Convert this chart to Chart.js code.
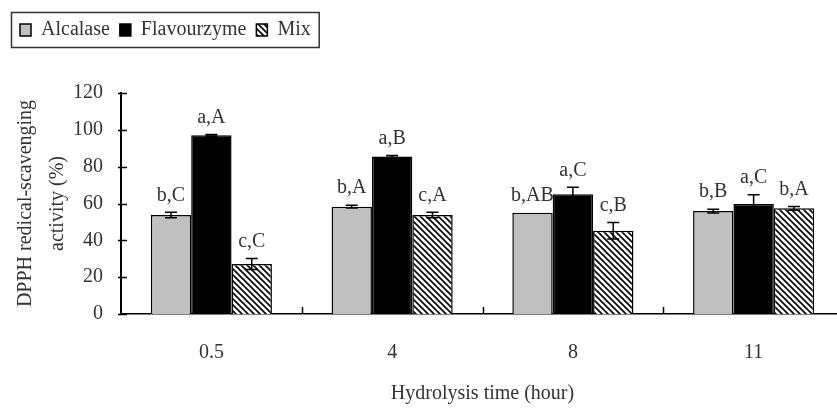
<!DOCTYPE html>
<html>
<head>
<meta charset="utf-8">
<script src="https://cdn.jsdelivr.net/npm/chart.js@4.4.1/dist/chart.umd.min.js"></script>
<style>
  html, body { margin: 0; padding: 0; background: #fff; overflow: hidden; }
  #wrap { width: 850px; height: 409px; }
</style>
</head>
<body>
<div id="wrap"><canvas id="chart"></canvas></div>
<script>
// values (means, SD, significance letters)
const hours = ['0.5', '4', '8', '11'];
const alcalase = [53.7, 58.3, 55.0, 55.9];
const flavourzyme = [97.0, 85.5, 65.0, 59.7];
const mix = [27.2, 53.7, 45.2, 57.4];
const alcalaseErr = [1.5, 0.8, 0, 1.0];
const flavourzymeErr = [0.5, 0.5, 3.8, 5.0];
const mixErr = [3.0, 1.5, 4.5, 1.0];
const alcalaseSig = ['b,C', 'b,A', 'b,AB', 'b,B'];
const flavourzymeSig = ['a,A', 'a,B', 'a,C', 'a,C'];
const mixSig = ['c,C', 'c,A', 'c,B', 'b,A'];
const yTicks = [0, 20, 40, 60, 80, 100, 120];

const errors = [alcalaseErr, flavourzymeErr, mixErr];
const sigs = [alcalaseSig, flavourzymeSig, mixSig];

const FONT = '"Liberation Serif", "Times New Roman", serif';
const TEXT = '#333';

function hatch() {
  const c = document.createElement('canvas');
  c.width = 6; c.height = 6;
  const g = c.getContext('2d');
  g.fillStyle = '#fff';
  g.fillRect(0, 0, 6, 6);
  g.strokeStyle = '#000';
  g.lineWidth = 1.6;
  g.beginPath();
  g.moveTo(-1, -1); g.lineTo(7, 7);
  g.moveTo(5, -1); g.lineTo(7, 1);
  g.moveTo(-1, 5); g.lineTo(1, 7);
  g.stroke();
  return g.createPattern(c, 'repeat');
}

const extras = {
  id: 'extras',
  beforeInit(chart) {
    const fit = chart.legend.fit;
    chart.legend.fit = function () { fit.call(this); this.height = 83; };
  },
  afterDatasetsDraw(chart) {
    const ctx = chart.ctx;
    const y = chart.scales.y;
    ctx.save();
    chart.data.datasets.forEach((ds, di) => {
      chart.getDatasetMeta(di).data.forEach((bar, i) => {
        const err = errors[di][i];
        const top = y.getPixelForValue(ds.data[i] + err);
        if (err > 0) {
          const bot = y.getPixelForValue(ds.data[i] - err);
          ctx.strokeStyle = '#000';
          ctx.lineWidth = 1.5;
          ctx.beginPath();
          ctx.moveTo(bar.x, top); ctx.lineTo(bar.x, bot);
          ctx.moveTo(bar.x - 6, top); ctx.lineTo(bar.x + 6, top);
          ctx.moveTo(bar.x - 6, bot); ctx.lineTo(bar.x + 6, bot);
          ctx.stroke();
        }
        ctx.fillStyle = TEXT;
        ctx.font = `20px ${FONT}`;
        ctx.textAlign = 'center';
        ctx.textBaseline = 'middle';
        ctx.fillText(sigs[di][i], bar.x, top - 17);
      });
    });
    ctx.restore();
  },
  afterDraw(chart) {
    const ctx = chart.ctx;
    const { x, y } = chart.scales;
    const area = chart.chartArea;
    ctx.save();
    ctx.strokeStyle = '#000';
    ctx.lineWidth = 1.5;
    ctx.beginPath();
    // inside tick marks on the y axis
    y.ticks.forEach((t) => {
      const py = Math.round(y.getPixelForValue(t.value)) + 0.5;
      ctx.moveTo(area.left - 3, py); ctx.lineTo(area.left + 6, py);
    });
    // inside tick marks between categories
    const half = (x.getPixelForValue(1) - x.getPixelForValue(0)) / 2;
    for (let i = 0; i < hours.length; i++) {
      const px = Math.round(x.getPixelForValue(i) + half) + 0.5;
      ctx.moveTo(px, area.bottom); ctx.lineTo(px, area.bottom - 7);
    }
    ctx.stroke();
    // frame round the legend
    const boxes = chart.legend.legendHitBoxes;
    const first = boxes[0];
    const last = boxes[boxes.length - 1];
    const cy = first.top + first.height / 2;
    ctx.strokeStyle = '#333';
    ctx.lineWidth = 1.5;
    ctx.strokeRect(first.left - 8.5, cy - 17.5, last.left + last.width - first.left + 17, 35);
    ctx.restore();
  },
};

new Chart(document.getElementById('chart'), {
  type: 'bar',
  data: {
    labels: hours,
    datasets: [
      { label: 'Alcalase', data: alcalase, backgroundColor: '#c0c0c0', borderColor: '#000', borderWidth: 1.5 },
      { label: 'Flavourzyme', data: flavourzyme, backgroundColor: '#000', borderColor: '#000', borderWidth: 1.5 },
      { label: 'Mix', data: mix, backgroundColor: hatch(), borderColor: '#000', borderWidth: 1.5 },
    ],
  },
  options: {
    responsive: true,
    maintainAspectRatio: false,
    animation: false,
    layout: { padding: { left: 10, right: 6, top: 10, bottom: 0 } },
    datasets: { bar: { categoryPercentage: 0.67, barPercentage: 1.0 } },
    plugins: {
      legend: {
        position: 'top',
        align: 'start',
        labels: { boxWidth: 11, boxHeight: 12, padding: 10, color: TEXT, font: { family: FONT, size: 20 } },
      },
      tooltip: { enabled: false },
    },
    scales: {
      x: {
        grid: { display: false, drawTicks: false },
        border: { display: true, color: '#000', width: 1.5 },
        ticks: { color: TEXT, padding: 27, font: { family: FONT, size: 20 } },
        title: { display: true, text: 'Hydrolysis time (hour)', color: TEXT, padding: { top: 0, bottom: 3 }, font: { family: FONT, size: 20 } },
        afterFit(scale) { scale.height = 95; },
      },
      y: {
        min: yTicks[0],
        max: yTicks[yTicks.length - 1],
        ticks: { stepSize: yTicks[1] - yTicks[0], color: TEXT, padding: 18, font: { family: FONT, size: 20 } },
        grid: { display: false, drawTicks: false },
        border: { display: true, color: '#000', width: 2 },
        title: {
          display: true,
          text: ['DPPH redical-scavenging', 'activity (%)'],
          color: TEXT,
          padding: { top: 0, bottom: 0 },
          font: { family: FONT, size: 20, lineHeight: 1.6 },
        },
        afterFit(scale) { scale.width = 111; },
      },
    },
  },
  plugins: [extras],
});
</script>
</body>
</html>
